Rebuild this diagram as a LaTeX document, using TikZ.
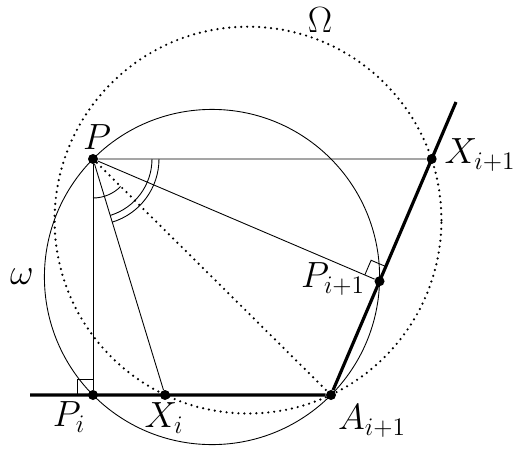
\documentclass[tikz,border=0pt]{standalone}
\usepackage{tikz}
\usetikzlibrary{calc, angles}

\begin{document}
\begin{tikzpicture}[x=0.02cm, y=0.02cm]
\tikzstyle{dot} = [circle, fill, inner sep=0pt, minimum size=0.2cm]
\tikzstyle{thinline} = [line width=0.5pt]
\tikzstyle{side} = [line width=1.8pt]
\tikzstyle{dots} = [line width=1.4pt, dash pattern=on 0pt off 3.4pt, line cap=round]
\tikzstyle{lbl} = [font=\huge]

\useasboundingbox (0,0) rectangle (524,458);

\coordinate (L) at (30,63);
\coordinate (T) at (456,356);
\coordinate (O) at (248,237.9);
\node[dot] (P) at (93,299) {};
\node[dot] (Pi) at (93,63) {};
\node[dot] (Xi) at (165,63) {};
\node[dot] (A) at (331,63) {};
\node[dot] (Xn) at ($(A)!0.8055!(T)$) {};
\node[dot] (Pn) at ($(A)!(P)!(T)$) {};

\draw[dots] let \p1 = ($(A)-(O)$), \n1 = {veclen(\x1,\y1)} in (O) circle (\n1);
\draw[thinline] let \p1 = ($(A)-(P)$), \n1 = {veclen(\x1,\y1)/2} in ($(P)!0.5!(A)$) circle (\n1);

\draw[side] (L) -- (A) -- (T);
\draw[thinline] (P) -- (Xn);
\draw[thinline] (P) -- (Pn);
\draw[thinline] (P) -- (Xi);
\draw[thinline] (P) -- (Pi);
\draw[dots] (P) -- (A);

\draw[thinline] ($(Pi)+(-16,0)$) -- ($(Pi)+(-16,16)$) -- ($(Pi)+(0,16)$);
\draw[thinline] ($(Pn)!0.32cm!(P)$) -- ($(Pn)!0.32cm!(P) + (Pn)!0.32cm!(Xn) - (Pn)$) -- ($(Pn)!0.32cm!(Xn)$);

\pic[draw, thinline, angle radius=0.78cm] {angle = Pi--P--A};
\pic[draw, thinline, angle radius=1.18cm] {angle = Xi--P--Xn};
\pic[draw, thinline, angle radius=1.32cm] {angle = Xi--P--Xn};

\node[lbl] (lP) at (97,321) {$P$};
\node[lbl] (lXn) at (480,303) {$X_{i+1}$};
\node[lbl] (lPn) at (333,179) {$P_{i+1}$};
\node[lbl] (lA) at (372,37) {$A_{i+1}$};
\node[lbl] (lPi) at (69,41) {$P_i$};
\node[lbl] (lXi) at (164,40) {$X_i$};
\node[lbl] (lw) at (22,181) {$\omega$};
\node[lbl] (lO) at (320,438) {$\Omega$};
\end{tikzpicture}
\end{document}
